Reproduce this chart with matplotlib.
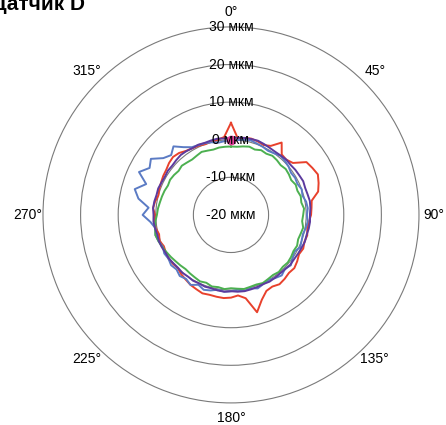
import numpy as np
import matplotlib
matplotlib.use("Agg")
import matplotlib.pyplot as plt

plt.rcParams['font.family'] = ['Liberation Sans', 'DejaVu Sans']

# Angles of the measurement points, degrees clockwise from the top
angles_deg = list(range(0, 360, 5))

# Radial deviation for each run, micrometres
red_um = [4.5, 0.5, 0.8, 1.0, 0.8, 0.5, 1.2, 3.5, 1.0, 0.8, 1.5, 4.5,
          5.0, 5.5, 4.8, 4.0, 1.8, 1.5, 1.3, 0.8, 0.6, 1.0, 0.8, 1.2,
          0.9, 1.5, 2.0, 1.8, 2.2, 2.5, 2.0, 2.3, 4.0, 6.8, 2.5, 1.5,
          2.0, 2.2, 2.1, 2.0, 2.2, 1.8, 1.5, 1.0, 0.6, 0.0, 0.2, 0.3,
          0.0, -0.3, 0.2, -0.2, 0.3, 0.5, 0.2, 0.8, 0.5, 0.0, 0.3, 0.5,
          0.8, 1.0, 1.5, 1.8, 1.5, 0.8, 0.5, 0.3, 0.0, 0.2, 0.3, 0.8]
blue_um = [-0.5, 0.0, 0.3, 0.5, 0.2, 0.0, -0.3, 0.0, 0.5, 0.3, 0.0, -0.5,
           -0.3, -0.5, 0.0, -0.3, 0.3, 0.5, 0.2, 0.5, 0.2, -0.2, 0.0, 0.3,
           -0.5, 0.0, 0.8, 0.3, 1.0, 0.5, 0.0, 0.3, 0.8, 0.2, 0.5, 0.0,
           0.3, 0.5, 0.2, 0.8, 1.2, 0.5, 1.5, 0.8, 1.2, 0.5, 0.8, 0.3,
           0.5, 0.0, 0.5, 0.8, 0.4, 1.5, 3.5, 2.0, 5.0, 6.5, 4.0, 7.0,
           5.0, 6.0, 3.5, 2.5, 3.8, 2.0, 0.8, 0.5, 0.3, 0.0, -0.5, -0.3]
green_um = [-1.8, -1.8, -1.5, -1.2, -1.5, -1.0, -1.2, -0.8, -1.0, -1.3, -1.0, -1.2,
            -1.5, -1.0, -1.2, -0.8, -1.0, -0.5, -0.8, -1.0, -0.5, -0.8, -1.0, -0.6,
            -0.8, -0.5, -0.3, -0.5, -0.2, -0.5, -0.3, 0.0, -0.3, -0.2, 0.0, -0.3,
            -0.5, -0.2, -0.5, -0.3, -0.8, -0.5, -0.8, -1.0, -1.2, -1.0, -0.8, -0.5,
            -0.2, 0.2, 0.5, 0.8, 0.5, 0.2, -0.3, -0.5, -0.8, -1.0, -1.2, -1.5,
            -1.3, -1.5, -1.8, -1.5, -1.8, -2.0, -1.8, -1.5, -1.8, -2.0, -1.8, -1.8]
purple_um = [0.5, 0.6, 0.8, 0.9, 1.0, 0.8, 0.6, 0.5, 0.6, 0.8, 0.7, 0.9,
             1.0, 1.2, 1.0, 1.1, 1.3, 1.2, 1.0, 1.1, 1.0, 0.8, 0.9, 0.7,
             0.6, 0.5, 0.6, 0.4, 0.3, 0.4, 0.5, 0.3, 0.4, 0.5, 0.6, 0.5,
             0.3, 0.5, 0.4, 0.2, 0.3, 0.1, 0.2, 0.0, 0.1, -0.1, 0.0, 0.2,
             0.1, 0.3, 0.4, 0.3, 0.5, 0.7, 0.6, 0.8, 0.7, 0.5, 0.6, 0.4,
             0.3, 0.5, 0.4, 0.6, 0.8, 0.7, 0.5, 0.6, 0.4, 0.5, 0.6, 0.4]

r_ticks = [30, 20, 10, 0, -10, -20]
r_tick_labels = ['30 мкм', '20 мкм', '10 мкм', '0 мкм', '-10 мкм', '-20 мкм']
theta_ticks = [0, 45, 90, 135, 180, 225, 270, 315]
theta_labels = ['0°', '45°', '90°', '135°', '180°', '225°', '270°', '315°']

series = [
    (red_um, '#e8412c'),
    (blue_um, '#5b7bc4'),
    (green_um, '#4cb050'),
    (purple_um, '#5c3a9e'),
]

fig = plt.figure(figsize=(4.46, 4.25), dpi=100)
ax = fig.add_axes([0.0964, 0.0518, 0.843, 0.885], projection='polar')
ax.set_theta_zero_location('N')
ax.set_theta_direction(-1)
ax.set_rlim(-20, 30)

theta = np.deg2rad(angles_deg + [angles_deg[0]])
for values, color in series:
    ax.plot(theta, values + [values[0]], color=color, lw=1.4)

# reference point at the top
ax.plot([0], [0], 'o', color='#e2409a', ms=6, zorder=5)

ax.set_yticks([-10, 0, 10, 20])
ax.set_yticklabels([])
ax.yaxis.grid(True, color='#7a7a7a', lw=0.8)
ax.xaxis.grid(False)
ax.spines['polar'].set_color('#7a7a7a')
ax.spines['polar'].set_linewidth(0.8)

ax.set_xticks(np.deg2rad(theta_ticks))
ax.set_xticklabels(theta_labels, fontsize=10)
ax.tick_params(axis='x', pad=0.5)

for r, label in zip(r_ticks, r_tick_labels):
    ax.text(0, r, label, ha='center', va='center', fontsize=10, zorder=6)

fig.text(85 / 446, 1 - 10 / 425, 'Датчик D', ha='right', va='baseline',
         fontsize=15, fontweight='bold')

fig.savefig('out.png', dpi=100)
